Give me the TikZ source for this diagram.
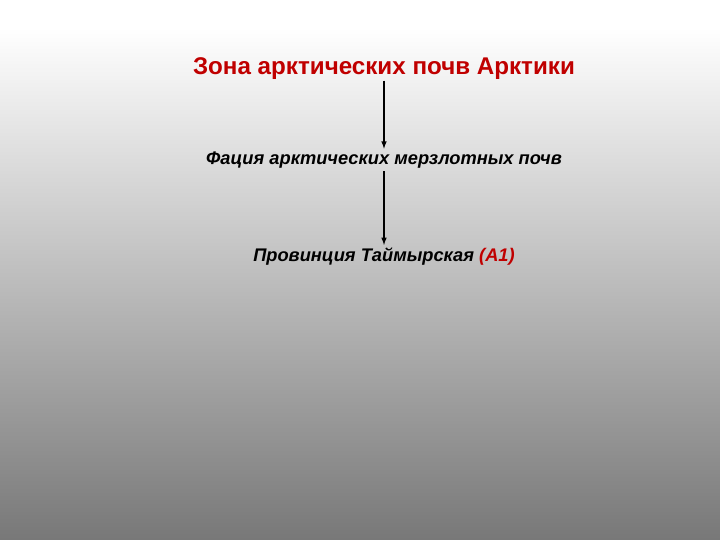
\documentclass[tikz,border=0pt]{standalone}
\usepackage{fontspec}
\setmainfont{Liberation Sans}
\definecolor{zonered}{RGB}{192,0,0}

\begin{document}
\begin{tikzpicture}
        % Define styles
        \tikzset{
            zone/.style={font=\fontsize{17.2}{20}\selectfont\bfseries, text=zonered, inner xsep=0pt, inner ysep=0.5pt},
            level/.style={font=\fontsize{13}{16}\selectfont\bfseries\itshape, inner xsep=0pt, inner ysep=2pt},
            arrow/.style={->,>=latex, thick}
        }

        % Background
        \fill[white] (0,0) rectangle (18,-0.7);
        \shade[top color=white, bottom color=black!53] (0,-0.7) rectangle (18,-13.5);
        \useasboundingbox (0,0) rectangle (18,-13.5);

        % Nodes
        \node[zone] (zone_node) at (9.6,-1.72) {Зона арктических почв Арктики};
        \node[level] (facia_node) at (9.6,-4.0) {Фация арктических мерзлотных почв};
        \node[level] (province_node) at (9.6,-6.42) {Провинция Таймырская \textcolor{zonered}{(А1)}};

        % Arrows
        \draw[arrow] (zone_node.south) -- (facia_node.north);
        \draw[arrow] (facia_node.south) -- (province_node.north);
\end{tikzpicture}
\end{document}
